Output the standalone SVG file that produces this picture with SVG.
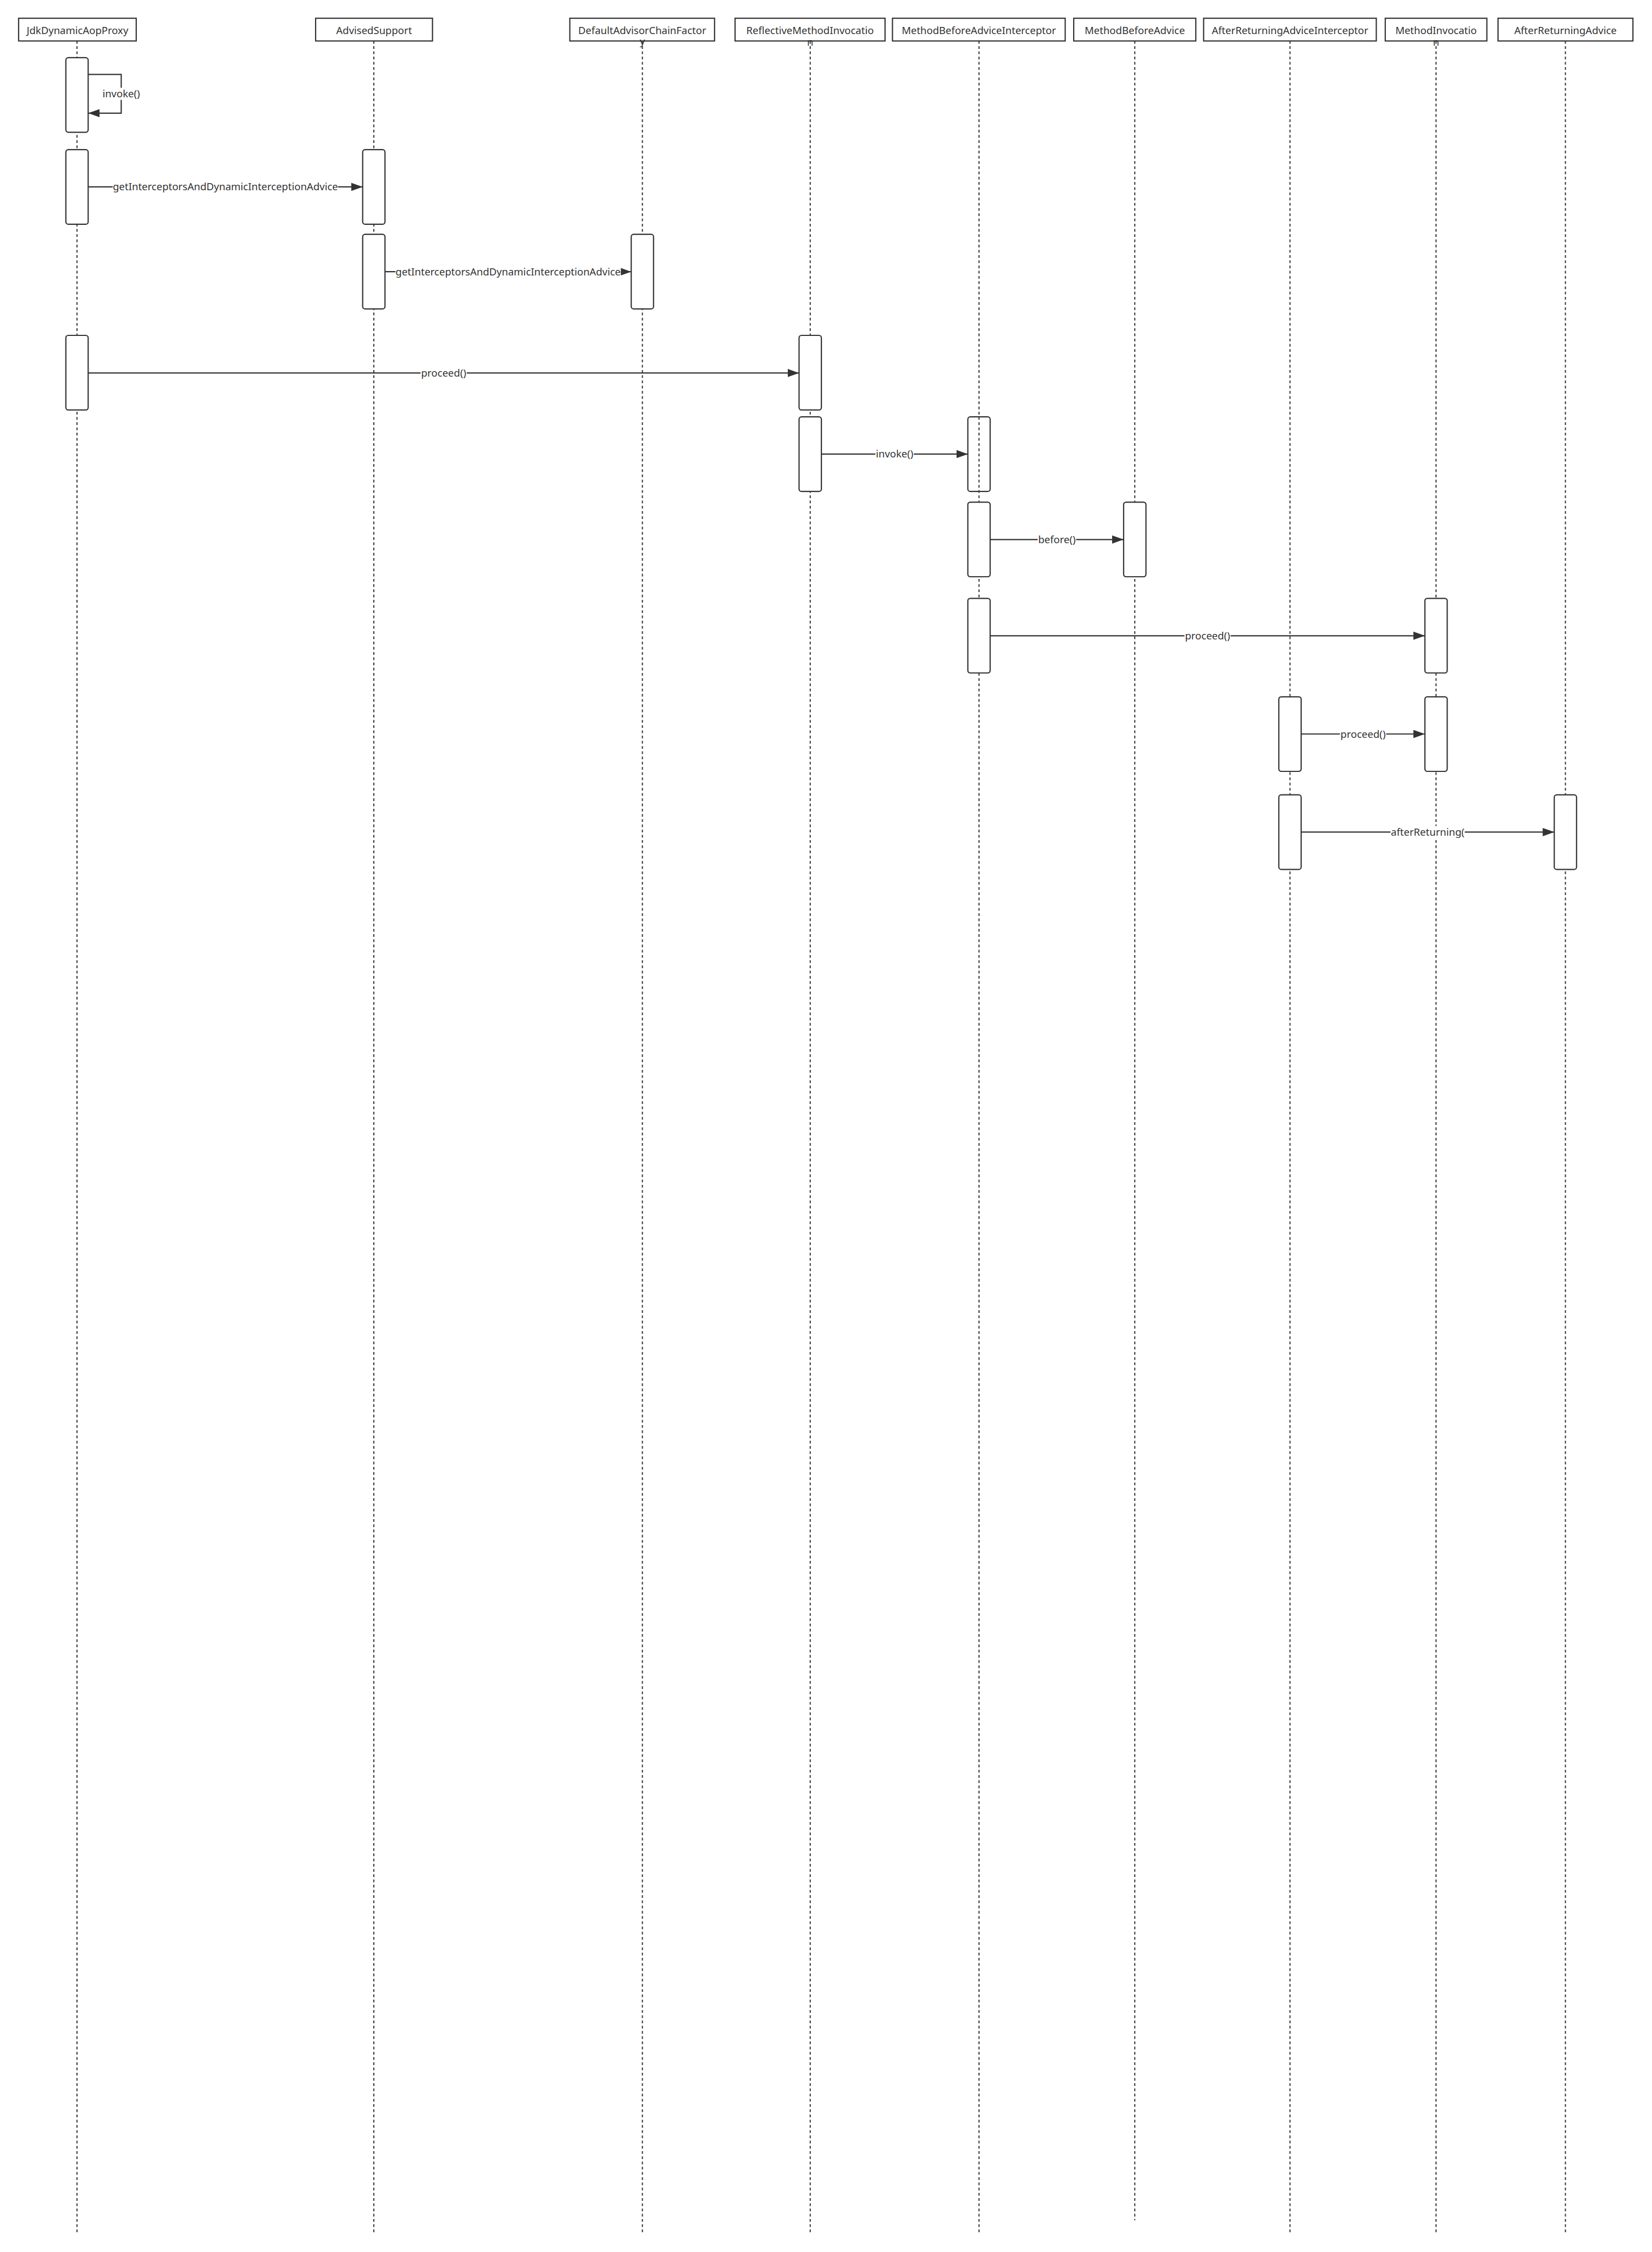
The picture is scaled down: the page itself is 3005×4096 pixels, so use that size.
<svg xmlns="http://www.w3.org/2000/svg" width="3005" height="4096" viewBox="0 0 3005 4096">
<style>
.hdr{fill:#fff;stroke:#333;stroke-width:2.2}
.t{font-family:"Noto Sans","Open Sans","DejaVu Sans",sans-serif;font-size:18.5px;fill:#333;text-anchor:middle}
.life{stroke:#333;stroke-width:2;stroke-dasharray:5 4.5;fill:none}
.act{fill:#fff;stroke:#333;stroke-width:2.2}
.actn{fill:none;stroke:#333;stroke-width:2.2}
.msg{stroke:#333;stroke-width:2.2;fill:none;marker-end:url(#arr)}
.bg{fill:#fff}
</style>
<defs>
<marker id="arr" markerUnits="userSpaceOnUse" markerWidth="21" markerHeight="15" refX="21" refY="7.5" orient="auto">
<path d="M0,0 L21,7.5 L0,15 Z" fill="#333"/>
</marker>
</defs>
<rect x="0" y="0" width="3005" height="4096" fill="#fff"/>

<g id="JdkDynamicAopProxy">
<line class="life" x1="140.1" y1="74.5" x2="140.1" y2="4060.6"/>
<rect class="hdr" x="33.9" y="33.2" width="213.9" height="41.3"/>
<text class="t" x="140.9" y="62">JdkDynamicAopProxy</text>
<rect class="act" x="119.8" y="104.9" width="40.6" height="135.7" rx="4.5"/>
<rect class="act" x="119.8" y="272.2" width="40.6" height="135.7" rx="4.5"/>
<rect class="act" x="119.8" y="610.0" width="40.6" height="135.7" rx="4.5"/>
</g>

<g id="AdvisedSupport">
<line class="life" x1="680.0" y1="74.5" x2="680.0" y2="4060.6"/>
<rect class="hdr" x="574.1" y="33.2" width="212.6" height="41.3"/>
<text class="t" x="680.4" y="62">AdvisedSupport</text>
<rect class="act" x="659.7" y="272.2" width="40.6" height="135.7" rx="4.5"/>
<rect class="act" x="659.7" y="426.2" width="40.6" height="135.7" rx="4.5"/>
</g>

<g id="DefaultAdvisorChainFactory">
<line class="life" x1="1168.5" y1="74.5" x2="1168.5" y2="4060.6"/>
<rect class="hdr" x="1036.5" y="33.2" width="263.3" height="41.3"/>
<text class="t" x="1168.2" y="62">DefaultAdvisorChainFactor</text>
<text class="t" x="1168.5" y="82.3">y</text>
<rect class="act" x="1148.2" y="426.2" width="40.6" height="135.7" rx="4.5"/>
</g>

<g id="ReflectiveMethodInvocation">
<line class="life" x1="1473.8" y1="74.5" x2="1473.8" y2="4060.6"/>
<rect class="hdr" x="1337.1" y="33.2" width="272.8" height="41.3"/>
<text class="t" x="1473.5" y="62">ReflectiveMethodInvocatio</text>
<text class="t" x="1473.8" y="82.6">n</text>
<rect class="act" x="1453.5" y="610.0" width="40.6" height="135.7" rx="4.5"/>
<rect class="act" x="1453.5" y="758.2" width="40.6" height="135.7" rx="4.5"/>
</g>

<g id="MethodBeforeAdviceInterceptor">
<line class="life" x1="1780.8" y1="74.5" x2="1780.8" y2="4060.6"/>
<rect class="hdr" x="1623.4" y="33.2" width="314.2" height="41.3"/>
<text class="t" x="1780.5" y="62">MethodBeforeAdviceInterceptor</text>
<rect class="actn" x="1760.5" y="758.2" width="40.6" height="135.7" rx="4.5"/>
<rect class="act" x="1760.5" y="913.3" width="40.6" height="135.7" rx="4.5"/>
<rect class="act" x="1760.5" y="1088.3" width="40.6" height="135.7" rx="4.5"/>
</g>

<g id="MethodBeforeAdvice">
<line class="life" x1="2064.2" y1="74.5" x2="2064.2" y2="4038.3"/>
<rect class="hdr" x="1953.1" y="33.2" width="222.1" height="41.3"/>
<text class="t" x="2064.2" y="62">MethodBeforeAdvice</text>
<rect class="act" x="2043.9" y="913.3" width="40.6" height="135.7" rx="4.5"/>
</g>

<g id="AfterReturningAdviceInterceptor">
<line class="life" x1="2346.5" y1="74.5" x2="2346.5" y2="4060.6"/>
<rect class="hdr" x="2189.4" y="33.2" width="314.1" height="41.3"/>
<text class="t" x="2346.5" y="62">AfterReturningAdviceInterceptor</text>
<rect class="act" x="2326.2" y="1267.3" width="40.6" height="135.7" rx="4.5"/>
<rect class="act" x="2326.2" y="1445.7" width="40.6" height="135.7" rx="4.5"/>
</g>

<g id="MethodInvocation">
<line class="life" x1="2612.2" y1="74.5" x2="2612.2" y2="4060.6"/>
<rect class="hdr" x="2519.8" y="33.2" width="184.8" height="41.3"/>
<text class="t" x="2612.2" y="62">MethodInvocatio</text>
<text class="t" x="2612.2" y="82.6">n</text>
<rect class="act" x="2591.9" y="1088.3" width="40.6" height="135.7" rx="4.5"/>
<rect class="act" x="2591.9" y="1267.3" width="40.6" height="135.7" rx="4.5"/>
</g>

<g id="AfterReturningAdvice">
<line class="life" x1="2847.5" y1="74.5" x2="2847.5" y2="4060.6"/>
<rect class="hdr" x="2724.9" y="33.2" width="245.4" height="41.3"/>
<text class="t" x="2847.6" y="62">AfterReturningAdvice</text>
<rect class="act" x="2827.2" y="1445.7" width="40.6" height="135.7" rx="4.5"/>
</g>

<g id="connectors">
<path class="msg" d="M160.4,135.4 H220.5 V205.8 H160.4"/>
<rect class="bg" x="185.5" y="159.6" width="70" height="22"/>
<text class="t" x="220.5" y="177.1">invoke()</text>

<line class="msg" x1="160.4" y1="339.9" x2="659.7" y2="339.9"/>
<rect class="bg" x="205" y="328.9" width="410" height="22"/>
<text class="t" x="410" y="346.4">getInterceptorsAndDynamicInterceptionAdvice</text>

<line class="msg" x1="700.3" y1="494.2" x2="1148.2" y2="494.2"/>
<rect class="bg" x="719.3" y="483.2" width="410" height="22"/>
<text class="t" x="924.3" y="500.7">getInterceptorsAndDynamicInterceptionAdvice</text>

<line class="msg" x1="160.4" y1="678.4" x2="1453.5" y2="678.4"/>
<rect class="bg" x="765" y="667.4" width="84" height="22"/>
<text class="t" x="807" y="684.9">proceed()</text>

<line class="msg" x1="1494.1" y1="825.9" x2="1760.5" y2="825.9"/>
<rect class="bg" x="1592.3" y="814.9" width="70" height="22"/>
<text class="t" x="1627.3" y="832.4">invoke()</text>

<line class="msg" x1="1801.1" y1="981.3" x2="2043.9" y2="981.3"/>
<rect class="bg" x="1887.5" y="970.3" width="70" height="22"/>
<text class="t" x="1922.5" y="987.8">before()</text>

<line class="msg" x1="1801.1" y1="1156.3" x2="2591.9" y2="1156.3"/>
<rect class="bg" x="2154.5" y="1145.3" width="84" height="22"/>
<text class="t" x="2196.5" y="1162.8">proceed()</text>

<line class="msg" x1="2366.8" y1="1335.0" x2="2591.9" y2="1335.0"/>
<rect class="bg" x="2437.4" y="1324.0" width="84" height="22"/>
<text class="t" x="2479.4" y="1341.5">proceed()</text>

<line class="msg" x1="2366.8" y1="1513.4" x2="2827.2" y2="1513.4"/>
<rect class="bg" x="2529.5" y="1502.4" width="135" height="22"/>
<text class="t" x="2597" y="1519.9">afterReturning(</text>
</g>
</svg>
